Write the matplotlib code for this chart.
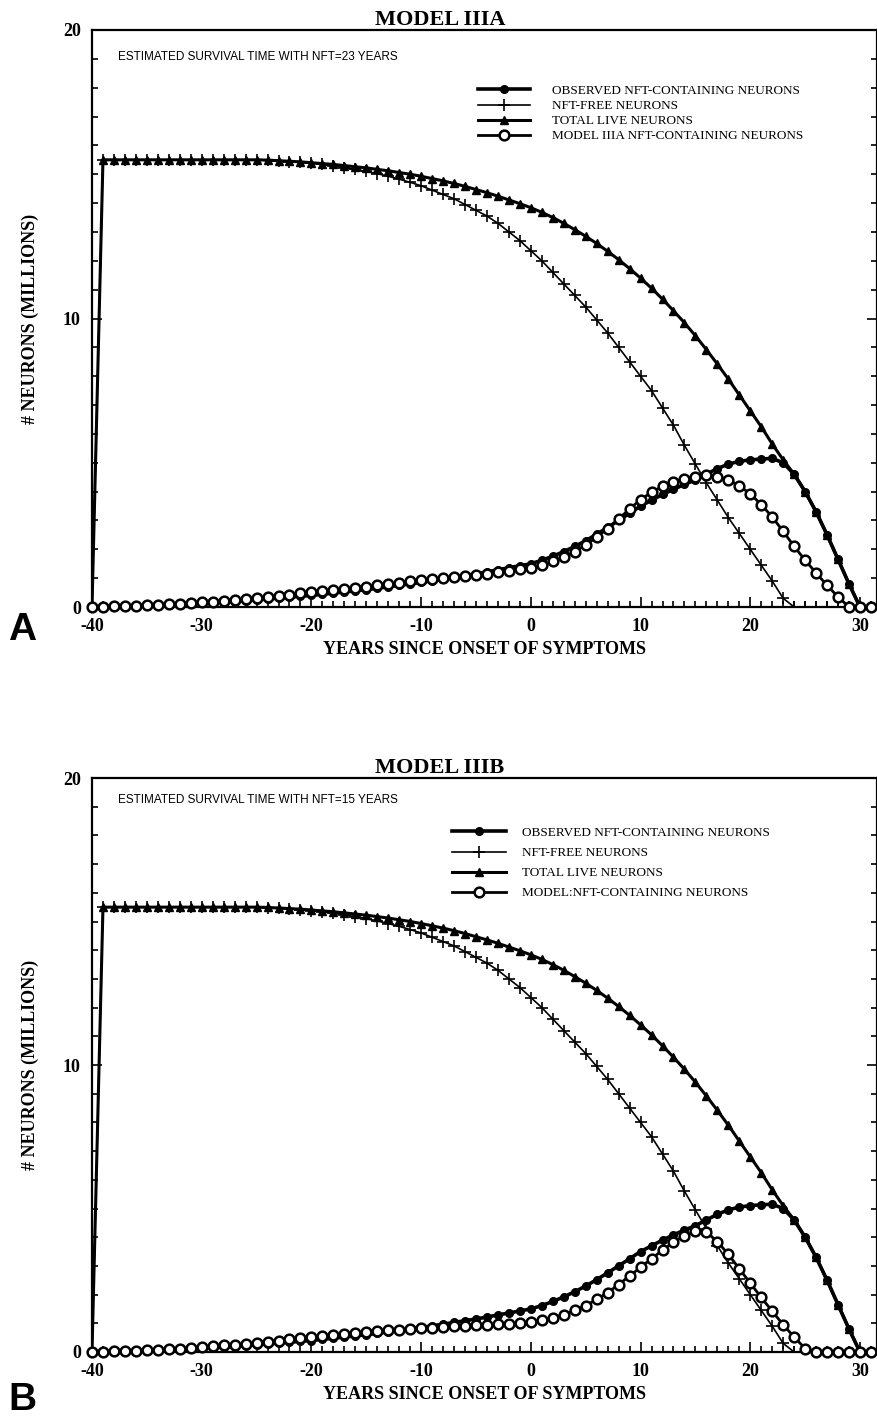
import matplotlib
matplotlib.use("Agg")
import matplotlib.pyplot as plt
from matplotlib.ticker import MultipleLocator

plt.rcParams['axes.unicode_minus'] = False

years = list(range(-40, 32))

total_live = [0.0] + [15.5] * 14 + [
    15.5, 15.49, 15.47, 15.45, 15.43, 15.4, 15.37, 15.34, 15.3, 15.26,
    15.22, 15.17, 15.12, 15.06, 15.0, 14.93, 14.85, 14.77, 14.68, 14.58,
    14.47, 14.36, 14.24, 14.11, 13.98, 13.84, 13.68, 13.5, 13.3, 13.08,
    12.85, 12.6, 12.33, 12.04, 11.73, 11.4, 11.05, 10.67, 10.27, 9.85,
    9.4, 8.92, 8.42, 7.9, 7.35, 6.8, 6.25, 5.65, 5.1, 4.6,
    4.0, 3.3, 2.5, 1.65, 0.8, 0.0, 0.0]

nft_free = [0.0] + [15.5] * 14 + [
    15.5, 15.48, 15.46, 15.44, 15.41, 15.38, 15.34, 15.29, 15.23, 15.17,
    15.1, 15.02, 14.93, 14.83, 14.72, 14.6, 14.45, 14.3, 14.15, 13.95,
    13.75, 13.55, 13.3, 13.0, 12.7, 12.35, 12.0, 11.6, 11.2, 10.8,
    10.4, 9.95, 9.5, 9.0, 8.5, 8.0, 7.5, 6.9, 6.3, 5.6,
    4.95, 4.3, 3.7, 3.1, 2.55, 2.0, 1.45, 0.9, 0.3, 0.0,
    0.0, 0.0, 0.0, 0.0, 0.0, 0.0, 0.0]

observed = [
    0.0, 0.02, 0.03, 0.04, 0.05, 0.06, 0.07, 0.08, 0.1, 0.11,
    0.13, 0.15, 0.17, 0.19, 0.22, 0.25, 0.28, 0.31, 0.34, 0.37,
    0.4, 0.44, 0.48, 0.52, 0.56, 0.6, 0.65, 0.7, 0.75, 0.8,
    0.85, 0.91, 0.97, 1.03, 1.09, 1.15, 1.22, 1.29, 1.36, 1.43,
    1.5, 1.62, 1.76, 1.92, 2.1, 2.3, 2.52, 2.76, 3.0, 3.25,
    3.5, 3.7, 3.9, 4.08, 4.25, 4.4, 4.6, 4.8, 4.95, 5.05,
    5.1, 5.13, 5.15, 5.0, 4.6, 4.0, 3.3, 2.5, 1.65, 0.8,
    0.0, 0.0]

model_a = [
    0.0, 0.01, 0.02, 0.03, 0.04, 0.06, 0.07, 0.09, 0.11, 0.13,
    0.16, 0.19, 0.22, 0.25, 0.28, 0.31, 0.35, 0.39, 0.43, 0.47,
    0.51, 0.55, 0.59, 0.63, 0.67, 0.71, 0.75, 0.79, 0.84, 0.89,
    0.94, 0.97, 1.0, 1.04, 1.08, 1.12, 1.16, 1.2, 1.25, 1.3,
    1.36, 1.46, 1.58, 1.73, 1.92, 2.15, 2.42, 2.72, 3.05, 3.4,
    3.72, 3.98, 4.18, 4.33, 4.44, 4.52, 4.57, 4.52, 4.4, 4.2,
    3.92, 3.55, 3.12, 2.62, 2.1, 1.62, 1.18, 0.75, 0.35, 0.0,
    0.0, 0.0]

model_b = [
    0.0, 0.01, 0.02, 0.03, 0.04, 0.06, 0.08, 0.1, 0.12, 0.14,
    0.17, 0.2, 0.23, 0.26, 0.29, 0.32, 0.36, 0.4, 0.44, 0.48,
    0.52, 0.56, 0.6, 0.63, 0.66, 0.69, 0.72, 0.75, 0.78, 0.8,
    0.83, 0.85, 0.87, 0.89, 0.91, 0.93, 0.95, 0.97, 0.99, 1.01,
    1.05, 1.1, 1.18, 1.3, 1.45, 1.62, 1.83, 2.07, 2.35, 2.65,
    2.95, 3.25, 3.55, 3.82, 4.05, 4.2, 4.18, 3.85, 3.4, 2.9,
    2.4, 1.9, 1.42, 0.95, 0.52, 0.12, 0.0, 0.0, 0.0, 0.0,
    0.0, 0.0]

panels = [
    ("MODEL IIIA", "ESTIMATED SURVIVAL TIME WITH NFT=23 YEARS", model_a,
     "MODEL IIIA NFT-CONTAINING NEURONS", "A"),
    ("MODEL IIIB", "ESTIMATED SURVIVAL TIME WITH NFT=15 YEARS", model_b,
     "MODEL:NFT-CONTAINING NEURONS", "B"),
]

serif = "Liberation Serif"
sans = "Liberation Sans"

fig = plt.figure(figsize=(8.78, 14.23), dpi=100)
H = 1423.0
W = 878.0
# axes boxes in pixels: left, top, right, bottom
boxes = [(92, 30, 877, 607), (92, 778, 877, 1352)]
leg_anchor = [(0.492, 0.905, 0.22, 3.9, 1.7), (0.459, 0.915, 0.6, 4.1, 1.2)]
note_y = [0.953, 0.962]
letter_y = [630, 1400]

for i, (title, note, model, model_label, letter) in enumerate(panels):
    l, t, r, b = boxes[i]
    ax = fig.add_axes([l / W, 1 - b / H, (r - l) / W, (b - t) / H])

    ax.plot(years, total_live, color="black", lw=2.2, marker="^", ms=6,
            label="TOTAL LIVE NEURONS", zorder=2)
    ax.plot(years, nft_free, color="black", lw=1.2, marker="+", ms=8, mew=1.2,
            label="NFT-FREE NEURONS", zorder=3)
    ax.plot(years, observed, color="black", lw=2.6, marker="o", ms=5.5,
            label="OBSERVED NFT-CONTAINING NEURONS", zorder=4)
    ax.plot(years, model, color="black", lw=2.0, marker="o", ms=7,
            mfc="white", mec="black", mew=1.8, label=model_label, zorder=5,
            clip_on=False)

    ax.set_xlim(-40, 31.55)
    ax.set_ylim(0, 20)
    ax.xaxis.set_major_locator(MultipleLocator(10))
    ax.xaxis.set_minor_locator(MultipleLocator(1))
    ax.yaxis.set_major_locator(MultipleLocator(10))
    ax.yaxis.set_minor_locator(MultipleLocator(1))
    ax.tick_params(axis="both", which="both", direction="in", width=1.2,
                   right=True, top=False)
    ax.tick_params(which="major", length=7, labelsize=13, pad=8)
    ax.tick_params(which="minor", length=4)
    for lab in ax.get_xticklabels() + ax.get_yticklabels():
        lab.set_family(serif)
        lab.set_fontweight("bold")
    for s in ax.spines.values():
        s.set_linewidth(1.6)

    ax.text(0.443, 1.0, title, transform=ax.transAxes, ha="center",
            va="bottom", family=serif, fontweight="bold", fontsize=16)
    ax.text(0.033, note_y[i], note, transform=ax.transAxes, ha="left",
            va="center", family=sans, fontsize=8.5)
    ax.text(-0.079, 0.5, "# NEURONS (MILLIONS)", transform=ax.transAxes,
            rotation=90, ha="center", va="center", family=serif,
            fontweight="bold", fontsize=13)
    ax.set_xlabel("YEARS SINCE ONSET OF SYMPTOMS", family=serif,
                  fontweight="bold", fontsize=13, labelpad=4)

    handles, labels = ax.get_legend_handles_labels()
    order = [2, 1, 0, 3]
    ax0, ay0, lsp, hlen, hpad = leg_anchor[i]
    ax.legend([handles[k] for k in order], [labels[k] for k in order],
              loc="upper left", bbox_to_anchor=(ax0, ay0), frameon=False,
              numpoints=1, borderpad=0, borderaxespad=0, labelspacing=lsp,
              handlelength=hlen, handletextpad=hpad,
              prop={"family": serif, "size": 9.5})

    fig.text(8 / W, 1 - letter_y[i] / H, letter, ha="left", va="center",
             family=sans, fontweight="bold", fontsize=28)

fig.savefig("out.png", dpi=100)
